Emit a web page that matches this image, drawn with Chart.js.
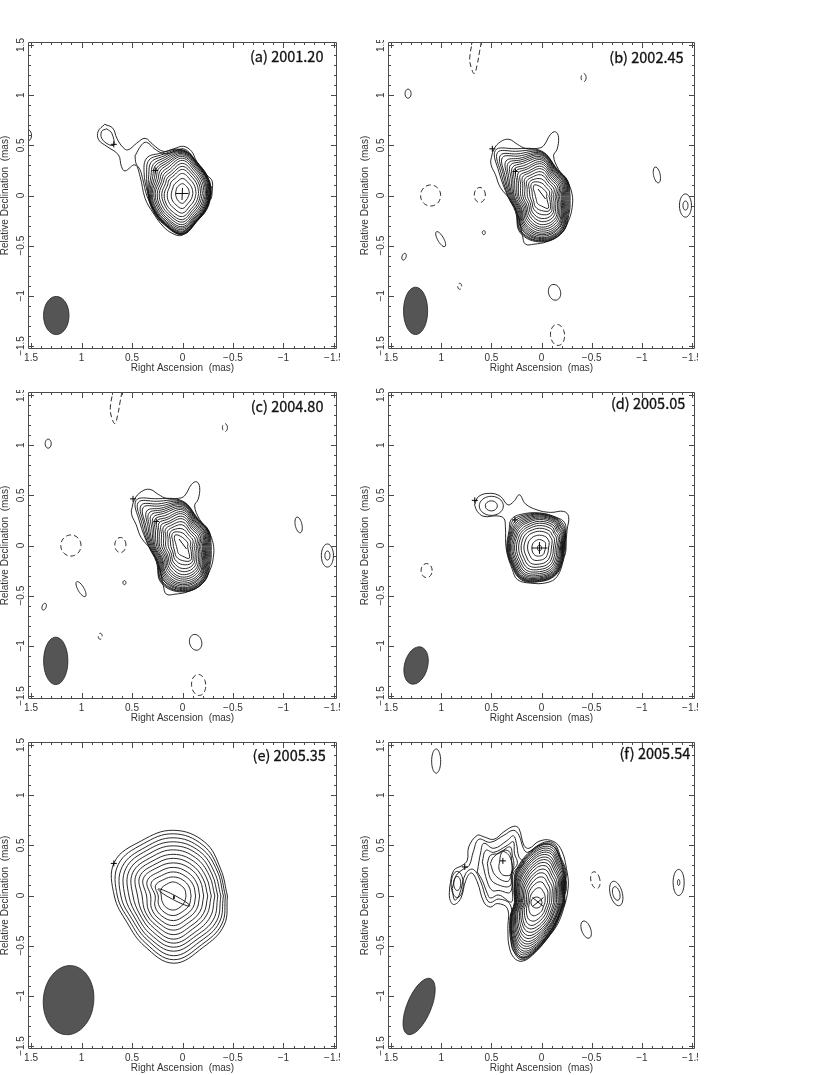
<!DOCTYPE html>
<html><head><meta charset="utf-8">
<script src="https://cdn.jsdelivr.net/npm/chart.js@4"></script>
<style>html,body{margin:0;padding:0;background:#fff;width:830px;height:1075px;overflow:hidden}canvas{position:absolute}</style>
</head><body>
<script>
const majorTicks=[1.5,1,0.5,0,-0.5,-1,-1.5];
const minorTicks=[1.4,1.3,1.2,1.1,0.9,0.8,0.7,0.6,0.4,0.3,0.2,0.1,-0.1,-0.2,-0.3,-0.4,-0.6,-0.7,-0.8,-0.9,-1.1,-1.2,-1.3,-1.4];
const panelTags=['(a) 2001.20','(b) 2002.45','(c) 2004.80','(d) 2005.05','(e) 2005.35','(f) 2005.54'];

// ---- panel (a) ----
const outlineA1=[.77,.71,.69,.67,.65,.57,.59,.48,.54,.455,.455,.52,.37,.57,.29,.505,.19,.44,.09,.465,-.01,.49,-.09,.44,-.14,.34,-.24,.205,-.295,.14,-.28,-.01,-.24,-.14,-.14,-.26,-.04,-.36,.02,-.40,.105,-.375,.19,-.31,.29,-.175,.37,-.03,.42,.19,.47,.305,.57,.245,.605,.29,.635,.405,.75,.49,.83,.555,.835,.64];
const outlineA2=[.47,.395,.405,.505,.355,.53,.27,.46,.17,.415,.055,.45,-.01,.465,-.08,.415,-.135,.32,-.235,.19,-.275,.12,-.27,-.01,-.225,-.135,-.135,-.25,-.035,-.34,.02,-.38,.095,-.35,.17,-.29,.27,-.16,.35,-.01,.395,.17,.42,.255,.46,.32];
const outlineA3=[.75,.665,.70,.62,.68,.505,.735,.51,.80,.57,.80,.64];
const centerA=[0,.02];
const spokesA=[0,30,60,90,120,135,150,180,210,240,270,300,330];
const radiiA=[
[.282,.279,.275,.271,.265,.258,.249,.239,.228,.214,.197,.18,.16,.134,.103,.068],
[.297,.294,.29,.285,.279,.272,.262,.252,.24,.225,.207,.189,.168,.141,.108,.072],
[.332,.328,.323,.318,.312,.303,.293,.281,.268,.251,.231,.211,.188,.157,.12,.08],
[.436,.431,.425,.418,.409,.398,.385,.37,.352,.33,.30,.27,.24,.20,.15,.098],
[.46,.44,.42,.40,.38,.36,.34,.32,.295,.27,.245,.22,.195,.165,.125,.085],
[.50,.47,.44,.41,.385,.36,.34,.315,.29,.265,.24,.215,.19,.16,.12,.08],
[.44,.41,.385,.36,.34,.32,.30,.28,.26,.24,.22,.195,.17,.145,.11,.072],
[.345,.34,.335,.33,.32,.31,.30,.285,.27,.25,.23,.205,.18,.15,.11,.068],
[.34,.335,.33,.325,.32,.31,.30,.285,.27,.255,.235,.21,.19,.16,.12,.072],
[.36,.355,.35,.345,.34,.33,.32,.305,.29,.27,.25,.23,.205,.17,.13,.085],
[.41,.405,.40,.395,.385,.375,.36,.345,.33,.31,.285,.26,.23,.195,.15,.098],
[.307,.303,.30,.295,.288,.28,.27,.26,.248,.232,.214,.195,.174,.146,.112,.075],
[.282,.279,.275,.27,.265,.258,.25,.24,.228,.214,.197,.18,.16,.134,.103,.065]];
const islandsA=[[1.55,.60,.055,.065,0,0],[-.265,.03,.015,.05,0,0],[-.265,.03,.028,.08,0,0]];
const beamA=[1.25,-1.196,.126,.19,0];
const plusA=[[.68,.51],[.27,.25]];
const barsA=[[.07,.02,-.06,.02],[0,.075,.005,-.045]];

// ---- panels (b) and (c): same map ----
const outlineB1=[.507,.345,.475,.46,.41,.535,.325,.56,.24,.51,.16,.47,.04,.47,-.02,.495,-.09,.61,-.14,.635,-.17,.58,-.155,.46,-.12,.395,-.17,.26,-.255,.145,-.305,.013,-.305,-.12,-.27,-.25,-.19,-.385,-.055,-.46,.075,-.485,.16,-.485,.19,-.40,.225,-.235,.29,-.07,.41,.08,.46,.21,.50,.295];
const centerB=[0,-.01];
const spokesB=[0,30,60,90,120,135,150,180,210,240,270,300,330];
const radiiB=[
[.285,.275,.265,.255,.245,.235,.225,.215,.205,.195,.18,.165,.15,.135,.115,.095,.075,.05],
[.305,.30,.295,.29,.283,.275,.266,.257,.246,.234,.22,.205,.188,.167,.145,.12,.093,.062],
[.315,.31,.305,.30,.293,.285,.275,.265,.255,.242,.227,.211,.194,.173,.152,.128,.10,.068],
[.453,.446,.44,.43,.42,.41,.395,.38,.365,.345,.325,.30,.275,.245,.215,.175,.135,.09],
[.55,.52,.49,.465,.44,.42,.40,.38,.355,.33,.31,.285,.265,.24,.215,.19,.165,.135],
[.65,.62,.58,.55,.50,.47,.44,.41,.385,.36,.33,.30,.27,.24,.21,.18,.15,.115],
[.49,.465,.44,.42,.395,.375,.35,.33,.31,.285,.265,.24,.215,.19,.165,.14,.11,.08],
[.335,.33,.32,.31,.30,.29,.28,.27,.255,.24,.225,.205,.185,.165,.14,.115,.09,.06],
[.30,.295,.29,.28,.27,.26,.25,.24,.23,.215,.20,.185,.17,.15,.13,.11,.09,.06],
[.42,.41,.40,.385,.375,.36,.345,.33,.315,.295,.275,.255,.23,.205,.18,.15,.12,.08],
[.453,.446,.44,.43,.42,.41,.395,.38,.365,.345,.325,.305,.28,.25,.22,.18,.14,.095],
[.415,.41,.40,.395,.385,.375,.36,.35,.335,.32,.30,.28,.26,.235,.21,.185,.16,.135],
[.32,.31,.30,.29,.28,.27,.26,.25,.24,.23,.215,.20,.185,.165,.145,.12,.10,.065]];
const islandsB=[[-.42,1.175,.025,.04,0,1],[1.33,1.015,.03,.045,0,0],[1.105,0,.1,.105,0,1],[.615,.005,.055,.075,0,1],[.575,-.37,.015,.02,0,0],[1.005,-.435,.03,.085,-30,0],[1.37,-.61,.02,.035,20,0],[.815,-.905,.02,.03,0,1],[-.13,-.965,.06,.08,-15,0],[-.16,-1.39,.07,.105,-5,1],[-1.15,.205,.033,.08,-12,0],[-1.435,-.10,.06,.115,0,0],[-1.435,-.10,.025,.045,0,0]];
const openDashB=[.60,1.53,.62,1.42,.64,1.31,.67,1.215,.705,1.29,.715,1.375,.69,1.53];
const beamB=[1.255,-1.15,.12,.236,0];
const plusB=[[.49,.465],[.26,.24]];
const barsB=[[.035,.065,-.04,-.035]];

// ---- panel (d) ----
const outlineD1=[.667,.405,.625,.49,.51,.52,.41,.49,.335,.405,.275,.44,.22,.505,.16,.415,.045,.355,-.09,.33,-.22,.34,-.27,.29,-.255,.155,-.24,-.01,-.22,-.14,-.155,-.31,-.055,-.37,.11,-.375,.24,-.34,.29,-.24,.35,-.045,.36,.19,.375,.27,.44,.295,.575,.29,.64,.34];
const centerD=[.02,-.025];
const spokesD=[0,30,45,60,90,120,135,150,180,210,240,270,300,330];
const radiiD=[
[.246,.242,.237,.232,.226,.219,.21,.20,.187,.174,.157,.139,.118,.09,.06],
[.305,.30,.295,.288,.28,.271,.26,.248,.232,.215,.195,.172,.146,.112,.07],
[.355,.335,.32,.305,.295,.28,.27,.255,.24,.22,.205,.18,.155,.12,.08],
[.35,.344,.337,.33,.32,.31,.298,.284,.266,.247,.224,.197,.167,.128,.08],
[.35,.344,.337,.33,.32,.31,.298,.284,.266,.247,.224,.197,.167,.128,.085],
[.385,.37,.355,.34,.325,.31,.295,.28,.26,.24,.22,.195,.167,.128,.082],
[.40,.38,.36,.34,.325,.31,.295,.28,.26,.24,.22,.195,.165,.125,.08],
[.35,.34,.33,.32,.31,.30,.285,.27,.255,.235,.215,.19,.16,.125,.08],
[.325,.32,.313,.307,.30,.29,.277,.264,.248,.23,.208,.183,.155,.119,.075],
[.325,.32,.313,.307,.30,.29,.277,.264,.248,.23,.208,.183,.155,.119,.08],
[.365,.358,.35,.344,.335,.324,.31,.296,.278,.257,.233,.205,.174,.133,.085],
[.335,.33,.323,.316,.308,.298,.286,.272,.255,.236,.214,.189,.16,.122,.08],
[.315,.31,.304,.298,.29,.28,.27,.256,.24,.222,.202,.178,.15,.115,.075],
[.266,.262,.257,.25,.244,.236,.227,.216,.203,.188,.17,.15,.127,.097,.06]];
const islandsD=[[1.145,-.25,.055,.07,0,1],[.50,.395,.12,.095,0,0],[.50,.395,.06,.05,0,0],[.02,-.025,.02,.03,0,0],[-.22,-.01,.012,.06,0,0],[-.22,-.01,.025,.10,0,0]];
const beamD=[1.25,-1.196,.115,.19,15];
const plusD=[[.665,.45],[.265,.255]];
const barsD=[[.10,-.025,-.06,-.025],[.02,.03,.02,-.08]];

// ---- panel (e) ----
const centerE=[.09,-.005];
const spokesE=[0,30,60,90,120,150,180,210,240,270,300,330];
const radiiE=[
[.535,.515,.495,.47,.44,.41,.375,.34,.30,.26,.22,.175,.125],
[.54,.52,.50,.47,.44,.41,.375,.34,.305,.265,.225,.18,.13],
[.62,.585,.55,.515,.48,.44,.40,.36,.32,.275,.23,.185,.13],
[.655,.62,.58,.54,.50,.46,.415,.375,.33,.285,.24,.19,.14],
[.635,.60,.56,.525,.485,.445,.405,.365,.325,.28,.235,.19,.135],
[.675,.63,.585,.545,.505,.465,.425,.385,.345,.30,.255,.205,.14],
[.585,.555,.52,.48,.44,.40,.355,.31,.265,.225,.18,.15,.12],
[.53,.50,.47,.44,.41,.38,.35,.32,.285,.25,.21,.17,.125],
[.575,.545,.51,.48,.445,.41,.375,.34,.305,.27,.23,.185,.135],
[.67,.635,.595,.55,.51,.47,.43,.385,.34,.295,.245,.195,.14],
[.59,.56,.525,.49,.455,.42,.38,.345,.305,.265,.225,.18,.13],
[.58,.555,.525,.495,.46,.42,.38,.345,.305,.265,.225,.18,.125]];
const islandsE=[[.085,-.02,.022,.178,-62,0]];
const beamE=[1.128,-1.043,.25,.345,5];
const plusE=[[.68,.32]];
const barsE=[[.085,0,.085,-.035]];

// ---- panel (f) ----
const outlineF1=[.915,.086,.875,.25,.79,.30,.74,.35,.725,.485,.64,.60,.575,.585,.475,.56,.375,.635,.275,.69,.225,.667,.175,.50,.125,.47,.025,.54,-.09,.55,-.19,.47,-.255,.235,-.265,.07,-.22,-.13,-.155,-.295,-.055,-.43,.075,-.58,.19,-.655,.275,-.62,.325,-.495,.335,-.33,.34,-.13,.44,-.08,.51,-.115,.575,-.065,.64,.135,.70,.225,.755,.15,.805,-.03,.875,-.09,.915,-.03];
const outlineF2=[.89,.07,.85,.20,.77,.27,.72,.30,.68,.435,.625,.56,.51,.53,.375,.60,.28,.65,.225,.60,.18,.47,.14,.43,.025,.50,-.08,.51,-.16,.435,-.22,.235,-.24,.07,-.19,-.145,-.12,-.31,-.025,-.445,.09,-.58,.19,-.62,.26,-.58,.30,-.495,.30,-.33,.31,-.095,.425,-.035,.51,-.07,.55,-.03,.605,.135,.68,.26,.755,.22,.82,.005,.865,-.045];
const outlineF3=[.64,.235,.605,.435,.575,.52,.475,.47,.34,.55,.28,.595,.25,.52,.225,.385,.175,.32,.275,.235,.29,.07,.30,-.065,.425,.005,.51,-.025,.54,.02,.59,.15];
const outlineF4=[.59,.335,.555,.45,.475,.43,.34,.50,.28,.535,.27,.42,.24,.32,.29,.235,.31,.035,.425,.05,.49,.05,.54,.135];
const outlineF5=[.54,.32,.51,.40,.425,.42,.315,.485,.29,.40,.275,.30,.30,.22,.315,.095,.44,.11,.51,.17];
const outlineF6=[.51,.32,.475,.385,.375,.45,.315,.43,.295,.30,.30,.22,.34,.14,.46,.20];
const outlineF7=[.425,.30,.39,.435,.315,.385,.295,.22,.375,.20,.42,.25];
const centerF=[.05,-.07];
const spokesF=[0,30,45,60,75,90,120,150,180,210,240,255,270,300,330];
const radiiF=[
[.285,.28,.275,.27,.262,.255,.245,.235,.225,.215,.20,.185,.17,.15,.13,.11,.085,.055],
[.325,.32,.315,.31,.30,.29,.28,.27,.26,.245,.23,.215,.20,.18,.155,.13,.10,.055],
[.42,.41,.40,.39,.38,.37,.355,.34,.325,.31,.29,.27,.245,.22,.19,.16,.115,.055],
[.50,.49,.48,.465,.45,.435,.42,.40,.38,.36,.335,.31,.285,.25,.22,.18,.13,.055],
[.62,.605,.59,.57,.55,.53,.51,.485,.46,.435,.405,.375,.34,.30,.26,.21,.15,.055],
[.56,.55,.54,.525,.51,.49,.47,.45,.425,.40,.375,.345,.31,.28,.24,.195,.14,.055],
[.39,.38,.37,.36,.35,.335,.32,.305,.29,.27,.25,.23,.21,.185,.16,.135,.10,.055],
[.26,.255,.25,.245,.24,.23,.225,.215,.205,.195,.18,.165,.15,.135,.115,.095,.075,.055],
[.22,.215,.21,.205,.20,.195,.185,.18,.17,.16,.15,.14,.125,.115,.10,.085,.07,.055],
[.305,.30,.295,.29,.28,.27,.26,.25,.24,.225,.215,.195,.18,.16,.14,.115,.09,.055],
[.49,.475,.465,.455,.44,.425,.41,.39,.37,.35,.325,.30,.27,.245,.21,.175,.125,.055],
[.59,.575,.56,.54,.52,.50,.475,.45,.425,.40,.37,.34,.305,.27,.235,.19,.135,.055],
[.48,.47,.46,.45,.44,.425,.41,.39,.37,.35,.325,.30,.275,.245,.21,.175,.125,.055],
[.325,.32,.315,.305,.30,.29,.28,.27,.26,.245,.235,.22,.20,.18,.155,.13,.10,.055],
[.27,.265,.26,.255,.25,.24,.235,.23,.22,.205,.195,.18,.165,.145,.125,.105,.08,.055]];
const islandsF=[[1.05,1.34,.045,.12,0,0],[-.537,.153,.045,.085,-12,1],[-.745,.02,.06,.125,-15,0],[-.745,.02,.035,.07,-15,0],[-.445,-.34,.045,.09,-20,0],[-1.367,.13,.055,.13,0,0],[-1.367,.13,.012,.03,0,0],[.84,.12,.035,.07,0,0],[.84,.11,.06,.13,0,0],[-.225,.10,.012,.05,0,0],[-.225,.10,.025,.09,0,0]];
const openF=[-1.52,-.60,-1.53,-.66];
const beamF=[1.22,-1.106,.12,.30,22.6];
const plusF=[[.765,.285],[.385,.345]];
const barsF=[[.09,-.02,-.02,-.11],[-.02,-.02,.09,-.11]];

const rad=Math.PI/180;
function pairs(a){const o=[];for(let i=0;i<a.length;i+=2)o.push({x:a[i],y:a[i+1]});return o}
function closed(a){const p=pairs(a);p.push(p[0]);return p}
function ellipsePts(e){const[cx,cy,a,b,t]=e,p=[],c=Math.cos(t*rad),s=Math.sin(t*rad);
 for(let i=0;i<=24;i++){const u=a*Math.cos(i*15*rad),v=b*Math.sin(i*15*rad);p.push({x:cx-(u*c+v*s),y:cy+(-u*s+v*c)})}return p}
function ringPts(center,spokes,radii,i){const p=spokes.map((d,k)=>({x:center[0]-radii[k][i]*Math.cos(d*rad),y:center[1]+radii[k][i]*Math.sin(d*rad)}));p.push(p[0]);return p}

const INK='#111';
function line(data,dash){return{data,showLine:true,pointRadius:0,borderColor:INK,borderWidth:.9,tension:.4,borderDash:dash?[5,3]:[],fill:false}}
function straight(b){return{data:[{x:b[0],y:b[1]},{x:b[2],y:b[3]}],showLine:true,pointRadius:0,borderColor:INK,borderWidth:1,tension:0}}

function build(m){
 const ds=[];
 ds.push({data:m.plus.map(q=>({x:q[0],y:q[1]})),showLine:false,pointStyle:'cross',pointRadius:3,pointBorderColor:'#000',pointBorderWidth:1});
 (m.bars||[]).forEach(b=>ds.push(straight(b)));
 (m.islands||[]).forEach(e=>ds.push(line(ellipsePts(e),e[5])));
 (m.open||[]).forEach(o=>ds.push(line(pairs(o),o.dash)));
 (m.outlines||[]).forEach(o=>ds.push(line(closed(o))));
 if(m.radii){const n=m.radii[0].length;for(let i=0;i<n;i++)ds.push(line(ringPts(m.center,m.spokes,m.radii,i)))}
 ds.push({data:ellipsePts(m.beam),showLine:true,pointRadius:0,borderColor:'#222',borderWidth:.8,tension:.4,backgroundColor:'#555',fill:'shape'});
 return ds;
}
const dashB=Object.assign(openDashB.slice(),{dash:true});
const mapA={outlines:[outlineA1,outlineA2,outlineA3],center:centerA,spokes:spokesA,radii:radiiA,islands:islandsA,beam:beamA,plus:plusA,bars:barsA};
const mapB={outlines:[outlineB1],center:centerB,spokes:spokesB,radii:radiiB,islands:islandsB,open:[dashB],beam:beamB,plus:plusB,bars:barsB};
const mapD={outlines:[outlineD1],center:centerD,spokes:spokesD,radii:radiiD,islands:islandsD,beam:beamD,plus:plusD,bars:barsD};
const mapE={center:centerE,spokes:spokesE,radii:radiiE,islands:islandsE,beam:beamE,plus:plusE,bars:barsE};
const mapF={outlines:[outlineF1,outlineF2,outlineF3,outlineF4,outlineF5,outlineF6,outlineF7],center:centerF,spokes:spokesF,radii:radiiF,islands:islandsF,open:[openF],beam:beamF,plus:plusF,bars:barsF};

const framePlugin={id:'frame',afterDatasetsDraw(c,_,o){
 const g=c.ctx,A=c.chartArea,X=c.scales.x,Y=c.scales.y;
 g.save();g.strokeStyle='#4a4a4a';g.lineWidth=1;g.beginPath();
 const seg=(a,b,d,e)=>{g.moveTo(a,b);g.lineTo(d,e)};
 const mark=(vals,len)=>vals.forEach(v=>{const x=Math.round(X.getPixelForValue(v))+.5,y=Math.round(Y.getPixelForValue(v))+.5;
  seg(x,A.bottom,x,A.bottom-len);seg(x,A.top,x,A.top+len);seg(A.left,y,A.left+len,y);seg(A.right,y,A.right-len,y)});
 mark(majorTicks,6);mark(minorTicks,3);
 g.rect(A.left+.5,A.top+.5,A.right-A.left-1,A.bottom-A.top-1);g.stroke();
 g.fillStyle='#111';g.strokeStyle='#111';g.lineWidth=.3;g.font='14.5px "Noto Sans CJK JP","Liberation Sans"';g.textAlign='right';g.textBaseline='alphabetic';
 const tx=X.getPixelForValue(o.x),ty=Y.getPixelForValue(o.y);
 g.fillText(o.text,tx,ty);g.strokeText(o.text,tx,ty);
 g.restore();
}};

const axisFont={family:'"Liberation Sans"',size:10};
const fmt=v=>v===0?'0':String(v).replace('-','\u2212');
const PAD_TOP=17,PAD_RIGHT=12;
function panel(map,tag,box){
 const cv=document.createElement('canvas');
 const w=box.right-box.left+28+PAD_RIGHT,h=PAD_TOP+box.bottom-box.top+27;
 cv.width=w;cv.height=h;cv.style.left=(box.left-28)+'px';cv.style.top=(box.top-PAD_TOP)+'px';cv.style.width=w+'px';cv.style.height=h+'px';
 cv.style.clipPath='inset('+box.clipTop+'px '+(PAD_RIGHT-box.clipR)+'px 0 0)';
 document.body.appendChild(cv);
 new Chart(cv,{type:'scatter',data:{datasets:build(map)},plugins:[framePlugin],options:{
  responsive:false,animation:false,events:[],devicePixelRatio:1,
  layout:{padding:{top:PAD_TOP,right:PAD_RIGHT,left:0,bottom:0}},
  plugins:{legend:{display:false},tooltip:{enabled:false},frame:{text:tag.text,x:tag.x,y:tag.y}},
  scales:{
   x:{type:'linear',reverse:true,min:-1.53,max:1.53,grid:{display:false,drawTicks:false},border:{display:false},
    afterBuildTicks:s=>{s.ticks=majorTicks.map(v=>({value:v}))},
    afterFit:s=>{s.height=27},
    ticks:{autoSkip:false,maxRotation:0,minRotation:0,padding:3,color:'#333',font:axisFont,callback:fmt},
    title:{display:true,text:'Right Ascension  (mas)',color:'#333',font:Object.assign({lineHeight:1},axisFont),padding:{top:2,bottom:3}}},
   y:{type:'linear',min:-1.53,max:1.53,grid:{display:false,drawTicks:false},border:{display:false},
    afterBuildTicks:s=>{s.ticks=majorTicks.map(v=>({value:v}))},
    afterFit:s=>{s.width=28},
    ticks:{autoSkip:false,minRotation:90,maxRotation:90,crossAlign:'center',padding:-3,color:'#333',font:axisFont,callback:fmt},
    title:{display:true,text:'Relative Declination  (mas)',color:'#333',font:Object.assign({lineHeight:1},axisFont),padding:{top:0,bottom:0}}}
  }}});
}
panel(mapA,{text:panelTags[0],x:-1.396,y:1.33},{left:28,right:337,top:42,bottom:349,clipTop:0,clipR:3});
panel(mapB,{text:panelTags[1],x:-1.416,y:1.325},{left:388,right:695,top:42,bottom:349,clipTop:15,clipR:3});
panel(mapB,{text:panelTags[2],x:-1.396,y:1.33},{left:28,right:337,top:392,bottom:699,clipTop:15,clipR:3});
panel(mapD,{text:panelTags[3],x:-1.433,y:1.36},{left:388,right:695,top:392,bottom:699,clipTop:0,clipR:3});
panel(mapE,{text:panelTags[4],x:-1.42,y:1.34},{left:28,right:337,top:742,bottom:1049,clipTop:0,clipR:3});
panel(mapF,{text:panelTags[5],x:-1.483,y:1.36},{left:388,right:695,top:742,bottom:1049,clipTop:15,clipR:3});
</script>
</body></html>
